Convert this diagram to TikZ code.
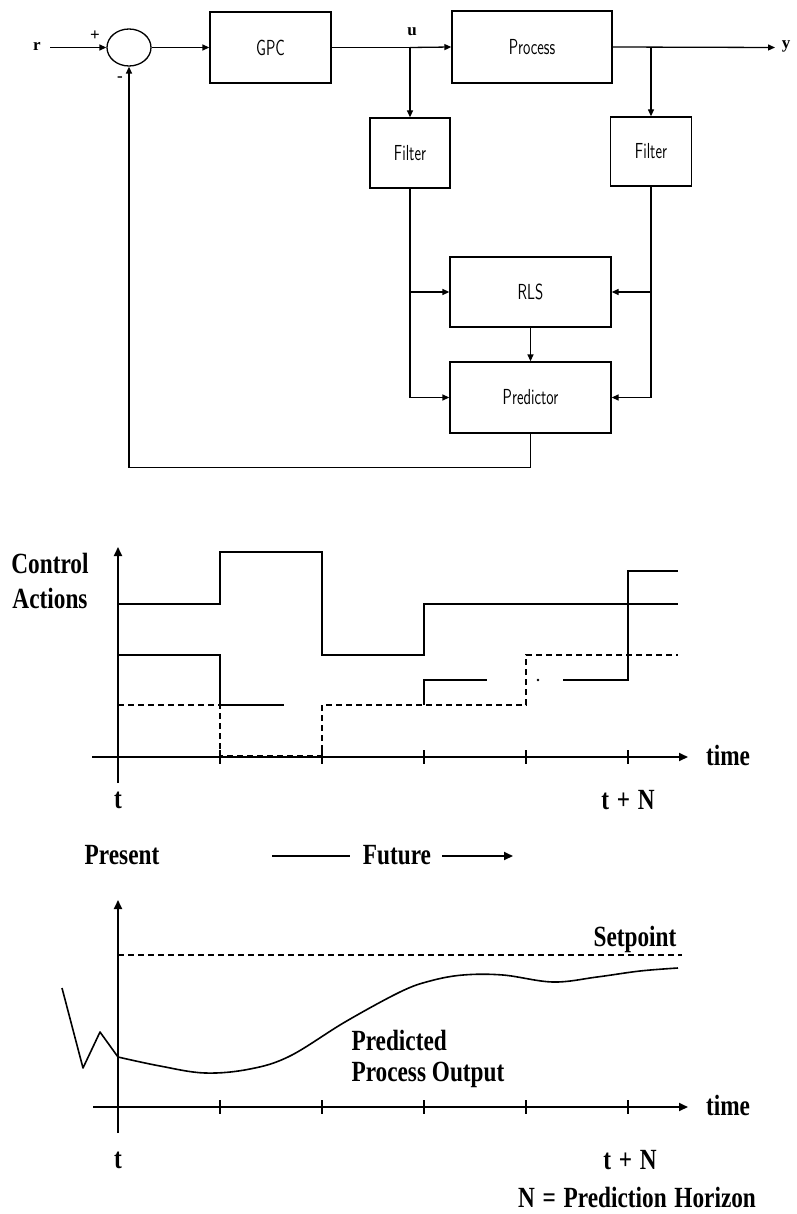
\documentclass[tikz,border=0pt]{standalone}
\usepackage{fontspec}
\usepackage{graphicx}
\usetikzlibrary{shapes.geometric,arrows.meta,calc}
\newfontfamily\cfont{Liberation Serif}
\newcommand\blkfont{\sffamily\fontsize{15}{17}\selectfont}
\newcommand\ctxt[1]{\scalebox{0.97}[1.22]{\cfont\bfseries\fontsize{24}{26}\selectfont #1}}
\newcommand\btxt[1]{\scalebox{1}[1.45]{#1}}
\begin{document}
\begin{tikzpicture}[x=1pt,y=-1pt,
  blk/.style={draw,line width=1.3pt,inner sep=0pt,font=\blkfont},
  ln/.style={line width=1.3pt},
  arr/.style={line width=1.3pt,-{Triangle[length=7pt,width=6pt]}},
  cl/.style={line width=1.8pt},
  dl/.style={line width=1.8pt,dash pattern=on 6pt off 4pt},
  axis/.style={line width=1.8pt,-{Triangle[length=9pt,width=8pt]}},
  tick/.style={line width=1.5pt},
  small/.style={font=\cfont\bfseries\fontsize{17}{19}\selectfont}]
\useasboundingbox (0,0) rectangle (796,1214);
% ---------- block diagram ----------
\node[ellipse,draw,line width=1.3pt,minimum width=44pt,minimum height=37pt,inner sep=0pt] (sum) at (129,47.5) {};
\node[blk,minimum width=121pt,minimum height=71pt] (gpc) at (270.5,47.5) {\btxt{GPC}};
\node[blk,minimum width=160pt,minimum height=72pt] (proc) at (532,47) {\btxt{Process}};
\node[blk,minimum width=80pt,minimum height=70pt] (filtL) at (410,153) {\btxt{Filter}};
\node[blk,minimum width=81pt,minimum height=69pt] (filtR) at (651,151.5) {\btxt{Filter}};
\node[blk,minimum width=161pt,minimum height=70pt] (rls) at (530.5,292) {\btxt{RLS}};
\node[blk,minimum width=161pt,minimum height=71pt] (pred) at (530.5,397.5) {\btxt{Predictor}};
\node[small] (rlab) at (37,46) {r};
\node[small] (plus) at (95,36) {+};
\node[small] (minus) at (120,79) {-};
\node[small] (ulab) at (412,32) {u};
\node[small] (ylab) at (786,46) {y};
\coordinate (rin) at (50,47.5);
\coordinate (ubr) at (410,47.5);
\coordinate (ybr) at (651,47.5);
\coordinate (yout) at (775,47.5);
\draw[arr] (rin) -- (sum.west);
\draw[arr] (sum.east) -- (gpc.west);
\draw[ln] (gpc.east) -- (ubr);
\draw[arr] (ubr) -- (proc.west);
\draw[arr] (ubr) -- (filtL.north);
\draw[arr] (proc.east) -- (yout);
\draw[arr] (ybr) -- (filtR.north);
\coordinate (l1) at (410,292);
\coordinate (r1) at (651,292);
\draw[arr] (filtL.south) |- (pred.west);
\draw[arr] (l1) -- (rls.west);
\draw[arr] (filtR.south) |- (pred.east);
\draw[arr] (r1) -- (rls.east);
\draw[arr] (rls.south) -- (pred.north);
\draw[arr] (pred.south) -- ++(0,34) -| (sum.south);
% ---------- control actions chart ----------
\coordinate (a1s) at (92,757);
\coordinate (a1e) at (688,757);
\coordinate (v1s) at (118,783);
\coordinate (v1e) at (118,547);
\draw[axis] (a1s) -- (a1e);
\draw[axis] (v1s) -- (v1e);
\foreach \xx in {220,322,424,526,628} \draw[tick] (\xx,750) -- (\xx,764);
\node (time1) at (728,755) {\ctxt{time}};
\node (ctrl) at (50,563) {\ctxt{Control}};
\node (act) at (50,598) {\ctxt{Actions}};
\node (t1) at (118,800) {\ctxt{t}};
\node (tn1) at (628,800) {\ctxt{t\,\,+\,\,N}};
\draw[cl] (118,604) -- (220,604) -- (220,552) -- (322,552) -- (322,655) -- (424,655) -- (424,604) -- (678,604);
\draw[cl] (118,655) -- (220,655) -- (220,705) -- (284,705);
\draw[dl] (118,705) -- (220,705) -- (220,756) -- (322,756) -- (322,705) -- (526,705) -- (526,655) -- (678,655);
\draw[cl] (424,705) -- (424,680) -- (487,680);
\draw[cl] (563,680) -- (628,680) -- (628,571) -- (678,571);
\fill (538,680) circle (1.3pt);
% ---------- present / future ----------
\node (present) at (122,855) {\ctxt{Present}};
\node (future) at (397,855) {\ctxt{Future}};
\coordinate (fl) at (272,856);
\coordinate (fr) at (350,856);
\coordinate (fa0) at (442,856);
\coordinate (fa) at (513,856);
\draw[cl] (fl) -- (fr);
\draw[axis] (fa0) -- (fa);
% ---------- predicted output chart ----------
\coordinate (a2s) at (93,1107);
\coordinate (a2e) at (688,1107);
\coordinate (v2s) at (118,1133);
\coordinate (v2e) at (118,900);
\draw[axis] (a2s) -- (a2e);
\draw[axis] (v2s) -- (v2e);
\foreach \xx in {220,322,424,526,628} \draw[tick] (\xx,1100) -- (\xx,1114);
\node (time2) at (728,1105) {\ctxt{time}};
\node (t2) at (118,1160) {\ctxt{t}};
\node (tn2) at (630,1160) {\ctxt{t\,\,+\,\,N}};
\node (hor) at (637,1197) {\ctxt{N\,\,=\,\,Prediction\,\,Horizon}};
\draw[dl] (118,955) -- (682,955);
\node (sp) at (635,939) {\ctxt{Setpoint}};
\draw[line width=1.6pt,line join=round] (62,988) -- (83,1068) -- (100,1032) -- (118,1057);
\draw[line width=1.6pt] plot[smooth,tension=0.6] coordinates {(118,1057) (160,1066) (205,1073) (250,1069) (290,1056) (345,1022) (400,992) (430,981) (463,975) (503,975) (553,982) (597,977) (640,971) (678,968)};
\node[anchor=west] (pr1) at (348,1040) {\ctxt{Predicted}};
\node[anchor=west] (pr2) at (348,1075) {\ctxt{Process Output}};
\end{tikzpicture}
\end{document}
